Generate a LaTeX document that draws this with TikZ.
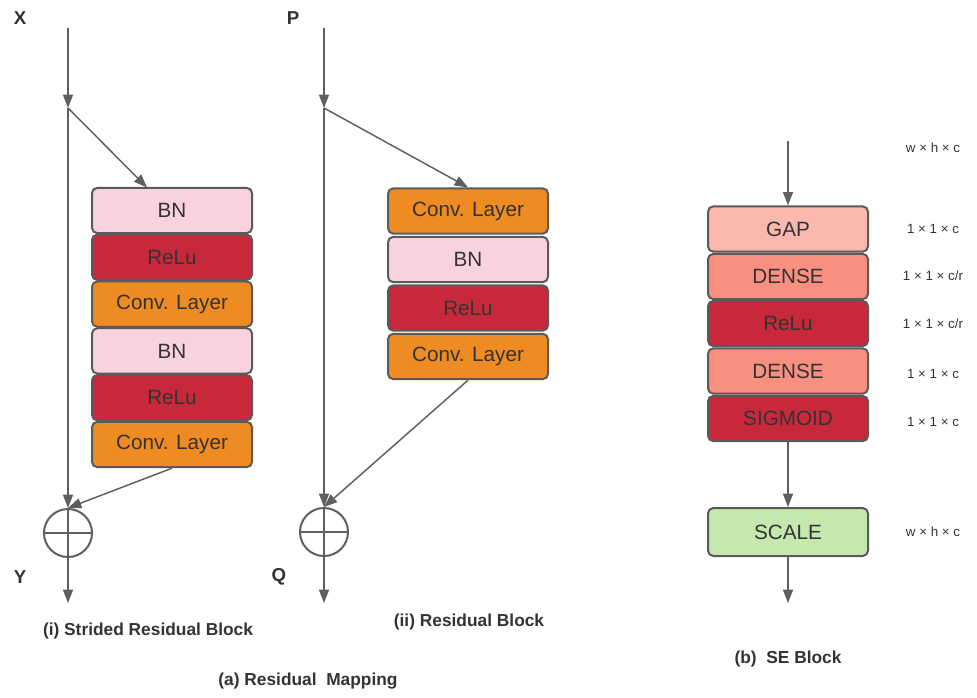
\documentclass[tikz,border=0pt]{standalone}
\usepackage{fontspec}
\setmainfont{Liberation Sans}
\usetikzlibrary{arrows.meta}
\definecolor{lgray}{HTML}{5F5F5F}
\definecolor{bgray}{HTML}{5A5A5A}
\definecolor{txt}{HTML}{333333}
\definecolor{bnc}{HTML}{F8D3DE}
\definecolor{reluc}{HTML}{C8293A}
\definecolor{convc}{HTML}{EE8B22}
\definecolor{gapc}{HTML}{FCB8AE}
\definecolor{densec}{HTML}{F98F7E}
\definecolor{scalec}{HTML}{C5E8AE}
\tikzset{
  ln/.style={draw=lgray, line width=1.1pt},
  arr/.style={ln, -{Triangle[length=10pt,width=7.5pt]}},
  blk/.style={draw=bgray, line width=1.5pt, rounded corners=4pt, minimum width=120pt,
    minimum height=34pt, text=txt, inner sep=0pt, font=\fontsize{15.5}{18}\selectfont},
  bn/.style={blk, fill=bnc},
  relu/.style={blk, fill=reluc},
  conv/.style={blk, fill=convc},
  gap/.style={blk, fill=gapc},
  dense/.style={blk, fill=densec},
  scl/.style={blk, fill=scalec, minimum height=36pt},
  sumc/.style={circle, draw=lgray, line width=1.5pt, minimum size=36pt, inner sep=0pt},
  io/.style={font=\fontsize{14}{16}\selectfont\bfseries, text=txt},
  captxt/.style={font=\fontsize{13}{16}\selectfont\bfseries, text=txt},
  dimtxt/.style={font=\fontsize{10}{12}\selectfont, text=txt},
}
\begin{document}
\begin{tikzpicture}[x=0.75pt, y=-0.75pt]
\useasboundingbox (0,0) rectangle (977,697);
% ---------- (i) strided residual block ----------
\node[io] (X) at (20,18) {X};
\coordinate (xin) at (68,28);
\coordinate (j1) at (68,108);
\node[bn]   (a1) at (172,210.5) {BN};
\node[relu] (a2) at (172,257.3) {ReLu};
\node[conv] (a3) at (172,304.1) {Conv. Layer};
\node[bn]   (a4) at (172,350.9) {BN};
\node[relu] (a5) at (172,397.7) {ReLu};
\node[conv] (a6) at (172,444.5) {Conv. Layer};
\coordinate (a1in) at (147,187.5);
\node[sumc] (s1) at (68,533) {};
\draw[sumc-line/.style={}, draw=lgray, line width=1.5pt] (s1.north) -- (s1.south) (s1.west) -- (s1.east);
\coordinate (yout) at (68,603);
\node[io] (Y) at (20,577) {Y};
\draw[arr] (xin) -- (j1);
\draw[arr] (j1) -- (a1in);
\draw[arr] (j1) -- (s1.north);
\draw[arr] (a6.south) -- (s1.north);
\draw[arr] (s1.south) -- (yout);
\node[captxt] (c1) at (148,631) {(i) Strided Residual Block};
% ---------- (ii) residual block ----------
\node[io] (P) at (293,18) {P};
\coordinate (pin) at (324,28);
\coordinate (j2) at (324,108);
\node[conv] (b1) at (468,211) {Conv. Layer};
\node[bn]   (b2) at (468,259.5) {BN};
\node[relu] (b3) at (468,308) {ReLu};
\node[conv] (b4) at (468,356.5) {Conv. Layer};
\node[sumc] (s2) at (324,532) {};
\draw[draw=lgray, line width=1.5pt] (s2.north) -- (s2.south) (s2.west) -- (s2.east);
\coordinate (qout) at (324,603);
\node[io] (Q) at (279,577) {Q};
\draw[arr] (pin) -- (j2);
\draw[arr] (j2) -- (b1.north);
\draw[arr] (j2) -- (s2.north);
\draw[arr] (b4.south) -- (s2.north);
\draw[arr] (s2.south) -- (qout);
\node[captxt] (c2) at (469,622) {(ii) Residual Block};
\node[captxt] (ca) at (308,681) {(a) Residual\ \ Mapping};
% ---------- (b) SE block ----------
\coordinate (sein) at (788,141);
\node[gap]   (g1) at (788,229)   {GAP};
\node[dense] (g2) at (788,276.5) {DENSE};
\node[relu]  (g3) at (788,323.5) {ReLu};
\node[dense] (g4) at (788,371)   {DENSE};
\node[relu]  (g5) at (788,418.5) {SIGMOID};
\node[scl]   (g6) at (788,532)   {SCALE};
\coordinate (seout) at (788,603);
\draw[arr] (sein) -- (g1.north);
\draw[arr] (g5.south) -- (g6.north);
\draw[arr] (g6.south) -- (seout);
\node[dimtxt] (d0) at (933,148) {w × h × c};
\node[dimtxt] (d1) at (933,229) {1 × 1 × c};
\node[dimtxt] (d2) at (933,276) {1 × 1 × c/r};
\node[dimtxt] (d3) at (933,324) {1 × 1 × c/r};
\node[dimtxt] (d4) at (933,374) {1 × 1 × c};
\node[dimtxt] (d5) at (933,422) {1 × 1 × c};
\node[dimtxt] (d6) at (933,532) {w × h × c};
\node[captxt] (cb) at (788,659) {(b)\ \ SE Block};
\end{tikzpicture}
\end{document}
